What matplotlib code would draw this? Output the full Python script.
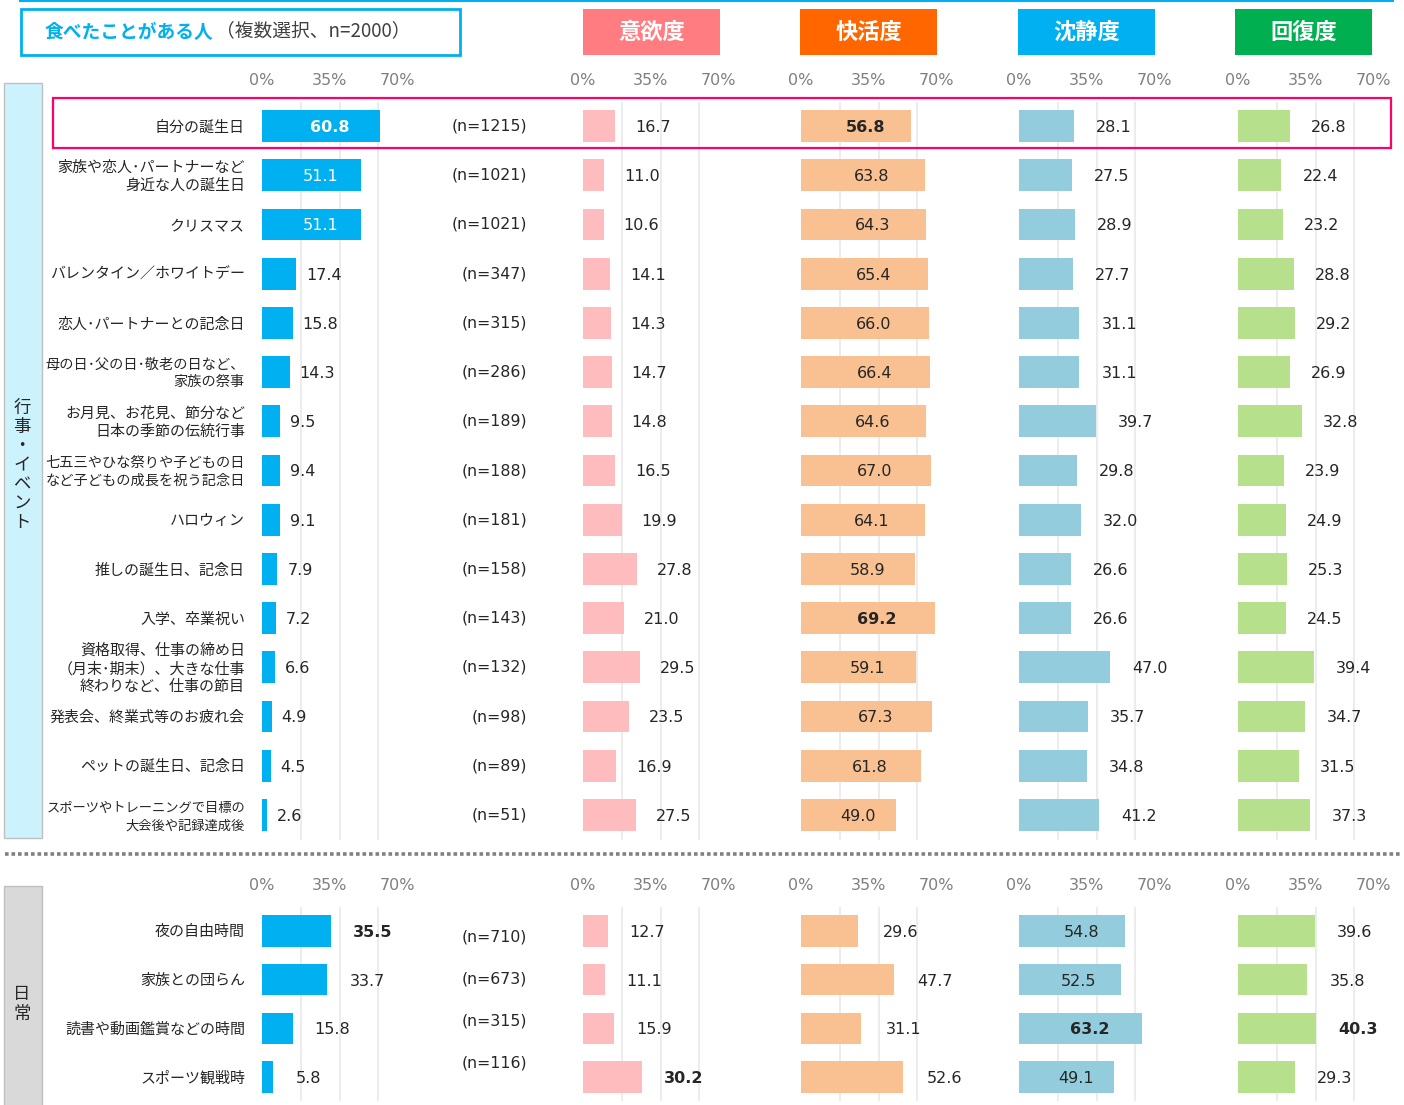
import matplotlib.pyplot as plt
from matplotlib.patches import Rectangle
from matplotlib.lines import Line2D

plt.rcParams['font.family'] = ['Noto Sans CJK JP', 'DejaVu Sans']

# ---- data ----
headers = ['意欲度', '快活度', '沈静度', '回復度']
header_colors = ['#FF7C80', '#FF6600', '#00B0F0', '#00B050']
bar_colors = ['#00B0F0', '#FFBCBF', '#F9C191', '#93CDDD', '#B6E08B']
tick_vals = [0, 35, 70]
tick_labels = ['0%', '35%', '70%']

event_labels = [
    '自分の誕生日',
    '家族や恋人･パートナーなど\n身近な人の誕生日',
    'クリスマス',
    'バレンタイン／ホワイトデー',
    '恋人･パートナーとの記念日',
    '母の日･父の日･敬老の日など、\n家族の祭事',
    'お月見、お花見、節分など\n日本の季節の伝統行事',
    '七五三やひな祭りや子どもの日\nなど子どもの成長を祝う記念日',
    'ハロウィン',
    '推しの誕生日、記念日',
    '入学、卒業祝い',
    '資格取得、仕事の締め日\n（月末･期末）、大きな仕事\n終わりなど、仕事の節目',
    '発表会、終業式等のお疲れ会',
    'ペットの誕生日、記念日',
    'スポーツやトレーニングで目標の\n大会後や記録達成後',
]
event_n = [1215, 1021, 1021, 347, 315, 286, 189, 188, 181, 158, 143, 132, 98, 89, 51]
event_eaten = [60.8, 51.1, 51.1, 17.4, 15.8, 14.3, 9.5, 9.4, 9.1, 7.9, 7.2, 6.6, 4.9, 4.5, 2.6]
event_iyoku = [16.7, 11.0, 10.6, 14.1, 14.3, 14.7, 14.8, 16.5, 19.9, 27.8, 21.0, 29.5, 23.5, 16.9, 27.5]
event_kaikatsu = [56.8, 63.8, 64.3, 65.4, 66.0, 66.4, 64.6, 67.0, 64.1, 58.9, 69.2, 59.1, 67.3, 61.8, 49.0]
event_chinsei = [28.1, 27.5, 28.9, 27.7, 31.1, 31.1, 39.7, 29.8, 32.0, 26.6, 26.6, 47.0, 35.7, 34.8, 41.2]
event_kaifuku = [26.8, 22.4, 23.2, 28.8, 29.2, 26.9, 32.8, 23.9, 24.9, 25.3, 24.5, 39.4, 34.7, 31.5, 37.3]
event_bold = [[0], [], [0, 10], [], []]
event_inside = [[0, 1, 2], [], list(range(15)), [], []]

daily_labels = ['夜の自由時間', '家族との団らん', '読書や動画鑑賞などの時間', 'スポーツ観戦時']
daily_n = [710, 673, 315, 116]
daily_eaten = [35.5, 33.7, 15.8, 5.8]
daily_iyoku = [12.7, 11.1, 15.9, 30.2]
daily_kaikatsu = [29.6, 47.7, 31.1, 52.6]
daily_chinsei = [54.8, 52.5, 63.2, 49.1]
daily_kaifuku = [39.6, 35.8, 40.3, 29.3]
daily_bold = [[0], [3], [], [2], [2]]
daily_inside = [[], [], [], [0, 1, 2, 3], []]
daily_n_dy = [6, -1, -7, -14]

# ---- layout (pixels) ----
W, H = 1404, 1105
PX = 1.94                      # pixels per percent
zeros = [262, 583, 801, 1019, 1238]
NUM = 'DejaVu Sans'
TXT = '#262626'
LABEL_MAX_W = 199              # room left of the first panel

fig = plt.figure(figsize=(W / 100, H / 100), dpi=100)
row_texts = []


def fx(x):
    return x / W


def fy(y):
    return 1 - y / H


def box(x, y, w, h, **kw):
    fig.patches.append(Rectangle((fx(x), fy(y + h)), w / W, h / H,
                                 transform=fig.transFigure, **kw))


def section(top, step, labels, n, cols, bold, inside, gaps, n_dy=None):
    rows = list(range(len(labels)))
    h = step * len(labels)
    for k, x0 in enumerate(zeros):
        ax = fig.add_axes([fx(x0), fy(top + h), 70 * PX / W, h / H])
        ax.set_xlim(0, 70)
        ax.set_ylim(len(labels) - 0.5, -0.5)
        ax.patch.set_visible(False)
        for s in ax.spines.values():
            s.set_visible(False)
        ax.xaxis.tick_top()
        ax.set_xticks(tick_vals)
        ax.set_xticklabels(tick_labels, family=NUM)
        ax.set_xticks([20, 40, 60], minor=True)
        ax.tick_params(axis='x', which='both', length=0, pad=10,
                       labelsize=11.5, labelcolor='#7F7F7F')
        ax.set_yticks([])
        ax.grid(which='minor', axis='x', color='#EBEBEB', lw=1.3)
        ax.set_axisbelow(True)
        vals = cols[k]
        ax.barh(rows, vals, height=0.65, color=bar_colors[k])
        for i, v in enumerate(vals):
            wt = 'bold' if i in bold[k] else 'normal'
            if i in inside[k]:
                c = 'white' if k == 0 else TXT
                ax.annotate(f'{v:.1f}', (v / 2, i), xytext=(9 * 0.72, -1),
                            textcoords='offset points', ha='center', va='center',
                            fontsize=11.5, family=NUM, color=c, fontweight=wt)
            else:
                ax.annotate(f'{v:.1f}', (v, i), xytext=(gaps[k] * 0.72, -1),
                            textcoords='offset points', ha='left', va='center',
                            fontsize=11.5, family=NUM, color=TXT, fontweight=wt)
        if k == 0:
            for i, lab in enumerate(labels):
                t = ax.annotate(lab, (0, i), xytext=(-17 * 0.72, -1),
                                textcoords='offset points', ha='right', va='center',
                                fontsize=10.8, color=TXT, linespacing=1.35)
                row_texts.append(t)
                dy = n_dy[i] if n_dy else 0
                ax.annotate(f'(n={n[i]})', (0, i), xytext=(265 * 0.72, -dy * 0.72),
                            textcoords='offset points', ha='right', va='center',
                            fontsize=11.3, family=NUM, color=TXT)


# top cyan rule
fig.add_artist(Line2D([fx(20), fx(1393)], [fy(1), fy(1)], color='#00B0F0', lw=1.5))

# title box
box(21, 9, 439, 46, facecolor='white', edgecolor='#00B0F0', lw=2)
fig.text(fx(45), fy(32), '食べたことがある人', color='#00B0F0', fontsize=13.5,
         fontweight='bold', va='center', ha='left')
fig.text(fx(216), fy(31), '（複数選択、n=2000）', color='#404040', fontsize=13.5,
         va='center', ha='left')

for name, c, x in zip(headers, header_colors, [583, 800, 1018, 1235]):
    box(x, 9, 137, 46, facecolor=c, edgecolor='none')
    fig.text(fx(x + 68.5), fy(32), name, color='white', fontsize=16,
             fontweight='bold', ha='center', va='center')

# side bands
box(4, 83, 38, 755, facecolor='#CCF2FD', edgecolor='#BFBFBF', lw=1)
fig.text(fx(22), fy(465), '\n'.join('行事・イベント'), fontsize=12.5, color=TXT,
         ha='center', va='center', linespacing=1.08)
box(4, 886, 38, 225, facecolor='#D9D9D9', edgecolor='#BFBFBF', lw=1)
fig.text(fx(22), fy(1004), '\n'.join('日常'), fontsize=12.5, color=TXT,
         ha='center', va='center', linespacing=1.08)

# dotted separator
fig.add_artist(Line2D([fx(5), fx(1402)], [fy(854), fy(854)], color='#808080',
                      lw=2.6, linestyle=(0, (1, 0.8)), solid_capstyle='butt',
                      dash_capstyle='butt'))

section(101.5, 49.2, event_labels, event_n,
        [event_eaten, event_iyoku, event_kaikatsu, event_chinsei, event_kaifuku],
        event_bold, event_inside, [10, 20, 22, 22, 21])
section(906.6, 48.7, daily_labels, daily_n,
        [daily_eaten, daily_iyoku, daily_kaikatsu, daily_chinsei, daily_kaifuku],
        daily_bold, daily_inside, [22, 22, 24, 22, 22], daily_n_dy)

# highlight frame for the first row
box(53, 98, 1338, 50, facecolor='none', edgecolor='#FF0066', lw=1.6)

# shrink long row labels so they stay clear of the side band
renderer = fig.canvas.get_renderer()
for t in row_texts:
    w = t.get_window_extent(renderer).width
    if w > LABEL_MAX_W:
        t.set_fontsize(t.get_fontsize() * LABEL_MAX_W / w)

fig.savefig('out.png', dpi=100)
